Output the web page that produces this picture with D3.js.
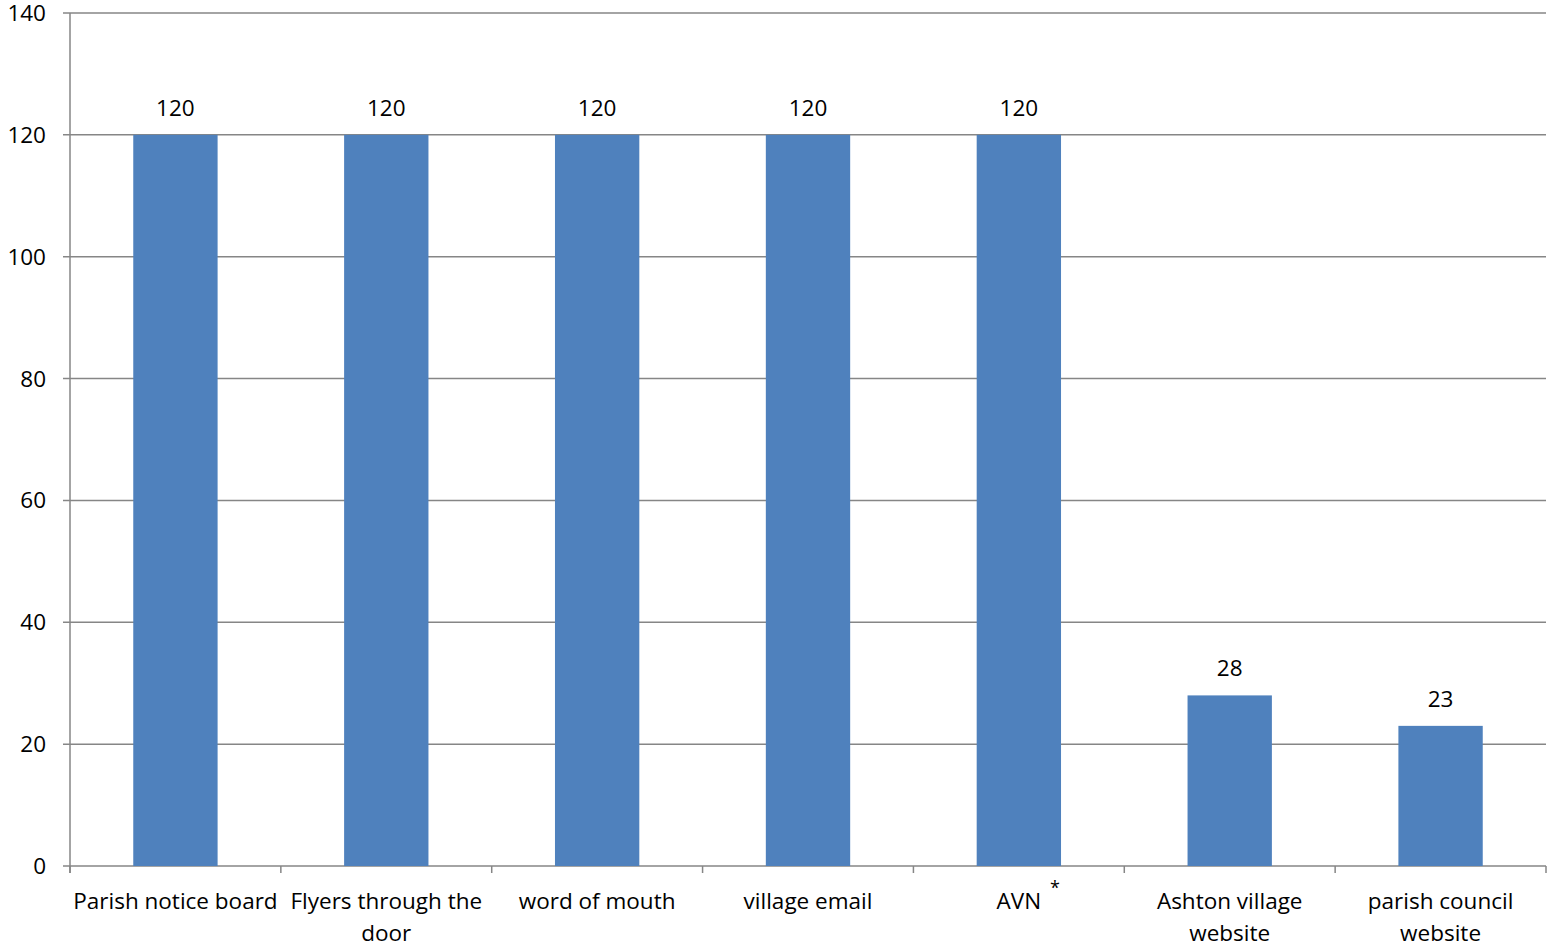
<!DOCTYPE html>
<html><head><meta charset="utf-8">
<script src="https://cdn.jsdelivr.net/npm/d3@7"></script>
<style>body{margin:0;background:#fff;}svg{display:block;font-family:"Open Sans",Lato,sans-serif;}</style>
</head><body><svg id="c" width="1547" height="945"></svg>
<script>
const categories = ["Parish notice board","Flyers through the door","word of mouth","village email","AVN","Ashton village website","parish council website"];
const categoryLines = [["Parish notice board"],["Flyers through the","door"],["word of mouth"],["village email"],["AVN"],["Ashton village","website"],["parish council","website"]];
const values = [120,120,120,120,120,28,23];
const yTicks = [0,20,40,60,80,100,120,140];

(function(){
const svg = d3.select("#c");
const pL = 70, pR = 1546, pT = 13, pB = 866;
const x = d3.scaleBand().domain(categories).range([pL, pR]).paddingInner(0.6).paddingOuter(0.3);
const y = d3.scaleLinear().domain([0,140]).range([pB, pT]);
const grid = "#868686", fs = 22.5;

svg.append("g").selectAll("line").data(yTicks).join("line")
  .attr("x1", pL-7).attr("x2", pR).attr("y1", d=>y(d)).attr("y2", d=>y(d))
  .attr("stroke", grid).attr("stroke-width", 1.5);
svg.append("g").selectAll("text").data(yTicks).join("text")
  .attr("x", 46).attr("y", d=>y(d)+8).attr("text-anchor","end")
  .attr("font-size", fs).attr("fill","#000").text(d=>d);
svg.append("line").attr("x1",pL).attr("x2",pL).attr("y1",pT).attr("y2",pB+7).attr("stroke",grid).attr("stroke-width",1.5);
const step = (pR-pL)/categories.length;
const bounds = d3.range(categories.length+1).map(i=>pL+i*step);
svg.append("g").selectAll("line").data(bounds).join("line")
  .attr("x1",d=>d).attr("x2",d=>d).attr("y1",pB).attr("y2",pB+7)
  .attr("stroke",grid).attr("stroke-width",1.5);
svg.append("g").selectAll("rect").data(values).join("rect")
  .attr("x",(d,i)=>x(categories[i])).attr("width",x.bandwidth())
  .attr("y",d=>y(d)).attr("height",d=>pB-y(d)).attr("fill","#4F81BD");
svg.append("g").selectAll("text").data(values).join("text")
  .attr("x",(d,i)=>x(categories[i])+x.bandwidth()/2).attr("y",d=>y(d)-19)
  .attr("text-anchor","middle").attr("font-size",fs).text(d=>d);
const cl = svg.append("g").selectAll("text").data(categoryLines).join("text")
  .attr("text-anchor","middle").attr("font-size",fs)
  .attr("transform",(d,i)=>`translate(${x(categories[i])+x.bandwidth()/2},909)`);
cl.selectAll("tspan").data(d=>d).join("tspan").attr("x",0).attr("dy",(d,i)=>i?32:0).text(d=>d);
svg.append("text").attr("x",1055).attr("y",894).attr("text-anchor","middle").attr("font-size",18).text("*");
})();
</script></body></html>
